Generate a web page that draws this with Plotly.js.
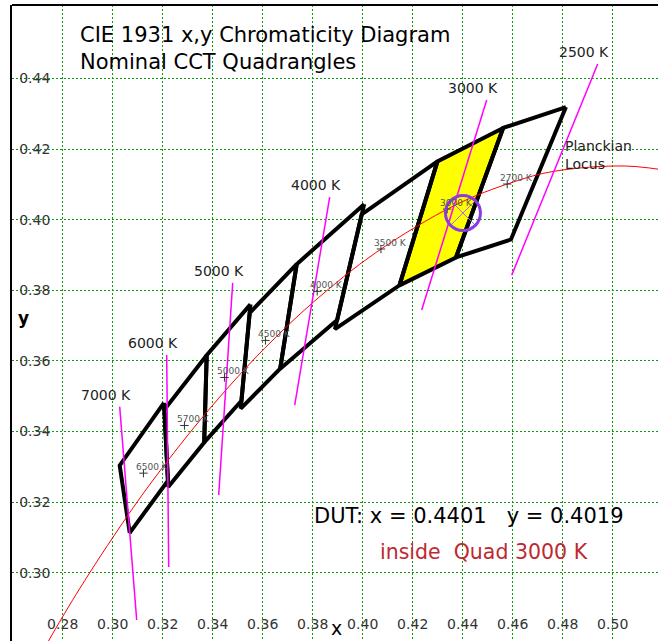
<!DOCTYPE html>
<html>
<head>
<meta charset="utf-8">
<script src="https://cdn.plot.ly/plotly-3.0.1.min.js"></script>
<style>html,body{margin:0;padding:0;background:#fff;}#chart{width:658px;height:641px;}</style>
</head>
<body>
<div id="chart"></div>
<script>
// ---- data ----
const quadCCT = [2700, 3000, 3500, 4000, 4500, 5000, 5700, 6500];
const quadX = [
  [0.4813, 0.4562, 0.4373, 0.4593, 0.4813],
  [0.4562, 0.4299, 0.4147, 0.4373, 0.4562],
  [0.4299, 0.3996, 0.3889, 0.4147, 0.4299],
  [0.4006, 0.3736, 0.3670, 0.3898, 0.4006],
  [0.3736, 0.3548, 0.3512, 0.3670, 0.3736],
  [0.3551, 0.3376, 0.3366, 0.3515, 0.3551],
  [0.3376, 0.3207, 0.3222, 0.3366, 0.3376],
  [0.3205, 0.3028, 0.3068, 0.3221, 0.3205]
];
const quadY = [
  [0.4319, 0.4260, 0.3893, 0.3944, 0.4319],
  [0.4260, 0.4165, 0.3814, 0.3893, 0.4260],
  [0.4165, 0.4015, 0.3690, 0.3814, 0.4165],
  [0.4044, 0.3874, 0.3578, 0.3716, 0.4044],
  [0.3874, 0.3736, 0.3465, 0.3578, 0.3874],
  [0.3760, 0.3616, 0.3369, 0.3487, 0.3760],
  [0.3616, 0.3462, 0.3243, 0.3369, 0.3616],
  [0.3481, 0.3304, 0.3113, 0.3261, 0.3481]
];
const quadCenterX = [0.4578, 0.4338, 0.4073, 0.3818, 0.3611, 0.3447, 0.3287, 0.3123];
const quadCenterY = [0.4101, 0.4030, 0.3917, 0.3797, 0.3658, 0.3553, 0.3417, 0.3282];
const selectedQuad = 3000;

const isoCCT  = [2500, 3000, 4000, 5000, 6000, 7000];
const isoTopX = [0.4940, 0.4496, 0.3868, 0.3480, 0.3216, 0.3028];
const isoTopY = [0.4441, 0.4339, 0.4064, 0.3821, 0.3617, 0.3470];
const isoBotX = [0.4596, 0.4236, 0.3728, 0.3424, 0.3224, 0.3096];
const isoBotY = [0.3843, 0.3744, 0.3475, 0.3220, 0.3016, 0.2866];

const planckT = [2000, 2200, 2500, 2700, 3000, 3500, 4000, 4500, 5000, 5500, 6000, 6500, 7000, 8000, 9000, 10000, 12000, 15000];
const planckX = [0.5269, 0.5054, 0.4765, 0.4599, 0.4369, 0.4053, 0.3805, 0.3608, 0.3451, 0.3325, 0.3221, 0.3135, 0.3064, 0.2952, 0.2869, 0.2807, 0.2719, 0.2637];
const planckY = [0.4133, 0.4152, 0.4137, 0.4106, 0.4041, 0.3907, 0.3768, 0.3636, 0.3516, 0.3411, 0.3318, 0.3237, 0.3166, 0.3048, 0.2956, 0.2884, 0.2776, 0.2666];

const dutX = 0.4401;
const dutY = 0.4019;

const xTicks = [0.28, 0.30, 0.32, 0.34, 0.36, 0.38, 0.40, 0.42, 0.44, 0.46, 0.48, 0.50];
const xTickText = ['0.28', '0.30', '0.32', '0.34', '0.36', '0.38', '0.40', '0.42', '0.44', '0.46', '0.48', '0.50'];
const yTicks = [0.30, 0.32, 0.34, 0.36, 0.38, 0.40, 0.42, 0.44];
const yTickText = ['0.30', '0.32', '0.34', '0.36', '0.38', '0.40', '0.42', '0.44'];

// ---- traces ----
const FONT = 'DejaVu Sans, Verdana, sans-serif';
const traces = [];

quadCCT.forEach((c, i) => {
  if (c === selectedQuad) {
    traces.push({x: quadX[i], y: quadY[i], mode: 'lines', fill: 'toself', fillcolor: '#ffff00',
      line: {width: 0, color: '#ffff00'}, hoverinfo: 'skip', showlegend: false});
  }
});
quadCCT.forEach((c, i) => {
  traces.push({x: quadX[i], y: quadY[i], mode: 'lines', name: c + ' K',
    line: {color: '#000000', width: 4}, showlegend: false});
});
traces.push({x: planckX, y: planckY, mode: 'lines', line: {color: '#ff0000', width: 1, shape: 'spline'},
  name: 'Planckian Locus', showlegend: false});
const isoXs = [], isoYs = [];
isoCCT.forEach((c, i) => { isoXs.push(isoTopX[i], isoBotX[i], null); isoYs.push(isoTopY[i], isoBotY[i], null); });
traces.push({x: isoXs, y: isoYs, mode: 'lines', line: {color: '#ff00ff', width: 1.5}, showlegend: false, name: 'isotherms'});
traces.push({x: quadCenterX, y: quadCenterY, mode: 'markers',
  marker: {symbol: 'cross-thin-open', size: 6, color: '#333333', line: {width: 1, color: '#333333'}}, showlegend: false});
traces.push({x: [dutX], y: [dutY], mode: 'markers',
  marker: {symbol: 'x-thin-open', size: 24, color: '#9c6cf0', line: {width: 1, color: '#9c6cf0'}}, showlegend: false});
traces.push({x: [dutX], y: [dutY], mode: 'markers',
  marker: {symbol: 'circle-open', size: 35, color: '#8a3ce0', line: {width: 3, color: '#8a3ce0'}}, showlegend: false});

// ---- annotations ----
const ann = [];
isoCCT.forEach((c, i) => {
  ann.push({x: isoTopX[i], y: isoTopY[i], text: c + ' K', showarrow: false, xanchor: 'center', yanchor: 'middle',
    xshift: -14, yshift: 12, font: {family: FONT, size: 14, color: '#222222'}});
});
quadCCT.forEach((c, i) => {
  ann.push({x: quadCenterX[i], y: quadCenterY[i], text: c + ' K', showarrow: false, xanchor: 'left', yanchor: 'middle',
    xshift: -9, yshift: 6, font: {family: FONT, size: 9, color: '#555555'}});
});
ann.push({x: 0.4800, y: 0.4183, text: 'Planckian<br>Locus', showarrow: false, xanchor: 'left', yanchor: 'middle', align: 'left',
  font: {family: FONT, size: 14, color: '#222222'}});
ann.push({x: 0.3796, y: 0.3161, text: 'DUT: x = ' + dutX.toFixed(4) + '\u00a0\u00a0\u00a0y = ' + dutY.toFixed(4),
  showarrow: false, xanchor: 'left', yanchor: 'middle', font: {family: FONT, size: 21, color: '#000000'}});
ann.push({x: 0.4060, y: 0.3059, text: 'inside\u00a0 Quad ' + selectedQuad + ' K', showarrow: false, xanchor: 'left', yanchor: 'middle',
  font: {family: FONT, size: 20.5, color: '#be2830'}});
ann.push({xref: 'paper', yref: 'paper', x: (336 - 12) / 646, y: 0, text: 'x', showarrow: false,
  xanchor: 'center', yanchor: 'bottom', font: {family: FONT, size: 19, color: '#000000'}});
ann.push({xref: 'paper', yref: 'paper', x: (23 - 12) / 646, y: (641 - 318) / 636, text: '<b>y</b>', showarrow: false,
  xanchor: 'center', yanchor: 'middle', font: {family: FONT, size: 17, color: '#000000'}});

const gridStyle = {showgrid: true, gridcolor: '#109a10', gridwidth: 1, griddash: '2px,2px', zeroline: false};

const layout = {
  width: 658, height: 641,
  margin: {l: 12, r: 0, t: 5, b: 0, pad: 0},
  paper_bgcolor: '#ffffff', plot_bgcolor: '#ffffff',
  showlegend: false,
  title: {text: 'CIE 1931 x,y Chromaticity Diagram<br>Nominal CCT Quadrangles', x: (80 - 12) / 646, xref: 'paper', xanchor: 'left',
    y: 1 - 41.5 / 641, yref: 'container', yanchor: 'middle', font: {family: FONT, size: 21, color: '#000000'}},
  xaxis: Object.assign({}, gridStyle, {range: [0.25972, 0.51812], tickmode: 'array', tickvals: xTicks, ticktext: xTickText,
    ticks: '', ticklabelposition: 'inside', ticklabelstandoff: 6, showline: false, tickfont: {family: FONT, size: 14, color: '#333333'}}),
  yaxis: Object.assign({}, gridStyle, {range: [0.28065, 0.46082], tickmode: 'array', tickvals: yTicks, ticktext: yTickText,
    ticks: 'inside', ticklen: 6, tickcolor: 'rgba(0,0,0,0)', ticklabelposition: 'inside', ticklabelstandoff: 1,
    showline: true, linecolor: '#000000', linewidth: 2,
    tickfont: {family: FONT, size: 14, color: '#333333'}}),
  shapes: [{type: 'line', xref: 'paper', yref: 'paper', x0: 0, x1: 1, y0: 1, y1: 1, line: {color: '#000000', width: 2}}],
  annotations: ann
};

Plotly.newPlot('chart', traces, layout, {displayModeBar: false, staticPlot: true});
</script>
</body>
</html>
